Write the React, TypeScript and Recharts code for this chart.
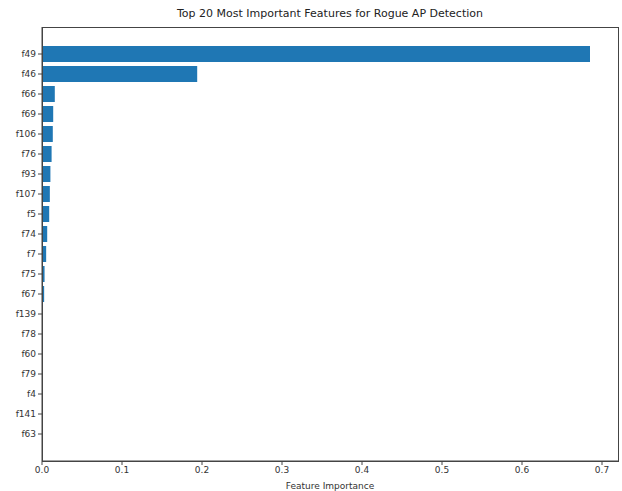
import { BarChart, Bar, XAxis, YAxis, Label } from 'recharts';

const features = ['f49', 'f46', 'f66', 'f69', 'f106', 'f76', 'f93', 'f107', 'f5', 'f74', 'f7', 'f75', 'f67', 'f139', 'f78', 'f60', 'f79', 'f4', 'f141', 'f63'];
const importance = [0.685, 0.194, 0.016, 0.014, 0.0135, 0.012, 0.0105, 0.0098, 0.009, 0.0065, 0.0052, 0.0032, 0.0027, 0.0012, 0.0011, 0.001, 0.0007, 0.0005, 0.0004, 0.0003];
const xTicks = [0, 0.1, 0.2, 0.3, 0.4, 0.5, 0.6, 0.7];

const data = features.map((name, i) => ({ name, value: importance[i] }));

const FONT = 'DejaVu Sans, sans-serif';
const AXIS = '#444';

const App = () => {
  return (
    <div style={{ position: 'absolute', left: 0, top: 0, width: 622, height: 491, background: '#fff' }}>
      <div style={{ position: 'absolute', left: 42, width: 576, top: 7, textAlign: 'center', fontFamily: FONT, fontSize: 11, color: '#222' }}>
        Top 20 Most Important Features for Rogue AP Detection
      </div>
      <BarChart
        width={622}
        height={491}
        data={data}
        layout="vertical"
        margin={{ top: 27, right: 4, left: 0, bottom: 0 }}
        barCategoryGap={0}
      >
        <XAxis
          type="number"
          domain={[0, 0.72]}
          ticks={xTicks}
          tickFormatter={(v) => v.toFixed(1)}
          height={30}
          tickSize={4}
          stroke={AXIS}
          tick={{ fontSize: 9, fill: '#333', fontFamily: FONT }}
          allowDataOverflow
        >
          <Label value="Feature Importance" position="insideBottom" offset={2} style={{ fontSize: 9, fill: '#333', fontFamily: FONT }} />
        </XAxis>
        <YAxis
          type="category"
          dataKey="name"
          width={42}
          tickSize={4}
          stroke={AXIS}
          padding={{ top: 17, bottom: 17 }}
          tick={{ fontSize: 9, fill: '#333', fontFamily: FONT }}
          interval={0}
        />
        <Bar dataKey="value" fill="#1f77b4" barSize={16} isAnimationActive={false} />
      </BarChart>
      {/* plot frame (matplotlib spines) */}
      <div style={{ position: 'absolute', left: 42, top: 27, width: 577, height: 435, boxSizing: 'border-box', border: `1px solid ${AXIS}`, pointerEvents: 'none' }} />
    </div>
  );
};

export default App;
